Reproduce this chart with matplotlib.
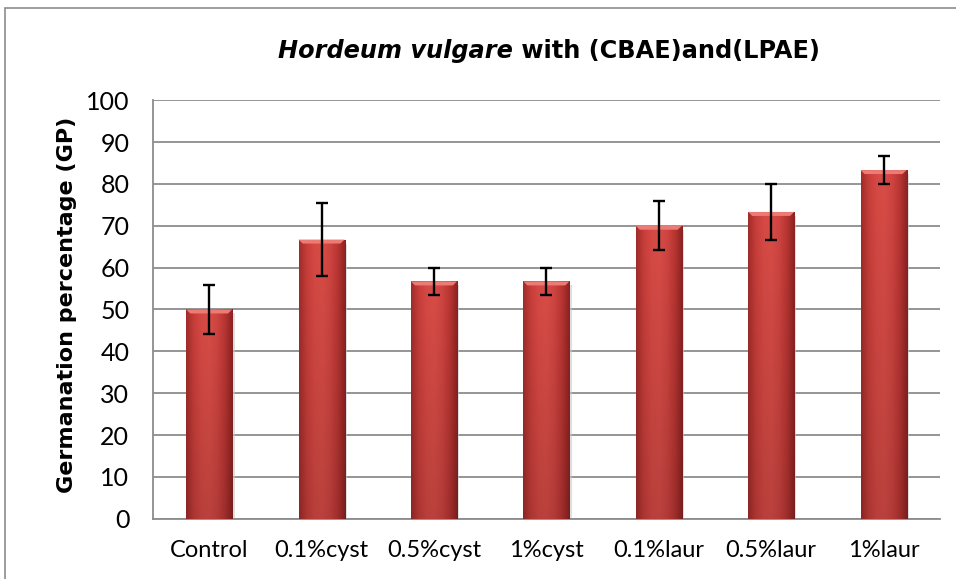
import matplotlib
matplotlib.use("Agg")
import matplotlib.pyplot as plt
import numpy as np
from matplotlib.patches import Polygon, Rectangle
from matplotlib.colors import LinearSegmentedColormap

plt.rcParams['font.family'] = ['Lato', 'DejaVu Sans']

categories = ['Control', '0.1%cyst', '0.5%cyst', '1%cyst', '0.1%laur', '0.5%laur', '1%laur']
gp_means = [50.0, 66.7, 56.7, 56.7, 70.0, 73.3, 83.3]
gp_errors = [5.8, 8.8, 3.3, 3.3, 5.8, 6.7, 3.3]
y_ticks = [0, 10, 20, 30, 40, 50, 60, 70, 80, 90, 100]

fig = plt.figure(figsize=(9.56, 5.79), dpi=100)
ax = fig.add_axes([0.160, 0.104, 0.823, 0.723])

x = np.arange(len(categories))
bars = ax.bar(x, gp_means, width=0.41, color='#cf4440', zorder=3)

# shading for the bars (dark edges, lighter centre, a bit darker to the bottom)
cmap = LinearSegmentedColormap.from_list(
    'barshade', ['#a02c2a', '#c83e3a', '#d64944', '#d84c47', '#cf4440', '#b83532', '#8a2222'])
h = np.linspace(0, 1, 200)
v = np.linspace(0, 1, 100)[:, None, None]
shade = np.tile(h, (100, 1))
for b in bars:
    bx, bw, bh = b.get_x(), b.get_width(), b.get_height()
    img = cmap(shade)
    img[..., :3] *= (0.86 + 0.14 * v)
    im = ax.imshow(img, extent=(bx, bx + bw, 0, bh), origin='lower',
                   aspect='auto', zorder=3)
    im.set_clip_path(b)
    b.set_facecolor('none')
    # bevel on the top
    dx, dy = bw * 0.09, 0.95
    ax.add_patch(Polygon([(bx, bh), (bx + bw, bh), (bx + bw - dx, bh - dy), (bx + dx, bh - dy)],
                         closed=True, facecolor='#ee7a74', edgecolor='none', zorder=4))
    # soft shadow right side
    ax.add_patch(Rectangle((bx + bw, 0), bw * 0.05, bh - dy, facecolor='#c8c8c8',
                           edgecolor='none', alpha=0.6, zorder=2))

ax.errorbar(x, gp_means, yerr=gp_errors, fmt='none', ecolor='black',
            elinewidth=1.7, capsize=4.5, capthick=1.7, zorder=5)

ax.set_xlim(-0.5, len(categories) - 0.5)
ax.set_ylim(0, 100)
ax.set_yticks(y_ticks)
ax.set_xticks(x)
ax.set_xticklabels(categories)
ax.yaxis.grid(True, color='#8c8c8c', linewidth=1.3, zorder=0)
ax.set_axisbelow(True)
ax.tick_params(axis='y', length=0, pad=17, labelsize=18)
ax.tick_params(axis='x', length=0, pad=15, labelsize=17)
for s in ['top', 'right']:
    ax.spines[s].set_visible(False)
for s in ['left', 'bottom']:
    ax.spines[s].set_color('#8c8c8c')
    ax.spines[s].set_linewidth(1.3)

ax.set_ylabel('Germanation percentage (GP)', fontsize=16, fontweight='bold',
              family='DejaVu Sans')
ax.yaxis.set_label_coords(-0.097, 0.51)

t1 = fig.text(0.291, 0.9, 'Hordeum vulgare', fontsize=17.3, fontweight='bold',
              fontstyle='italic', ha='left', va='baseline', family='DejaVu Sans')
fig.canvas.draw()
ax.annotate(' with (CBAE)and(LPAE)', xy=(1, 0), xycoords=t1, fontsize=17.3,
            fontweight='bold', ha='left', va='bottom', annotation_clip=False,
            family='DejaVu Sans')

fig.patches.append(Rectangle((5 / 956, -0.1), 1.2, 1.1 - 8 / 579, transform=fig.transFigure,
                             fill=False, edgecolor='#8c8c8c', linewidth=1.2))

fig.savefig('out.png', dpi=100)
